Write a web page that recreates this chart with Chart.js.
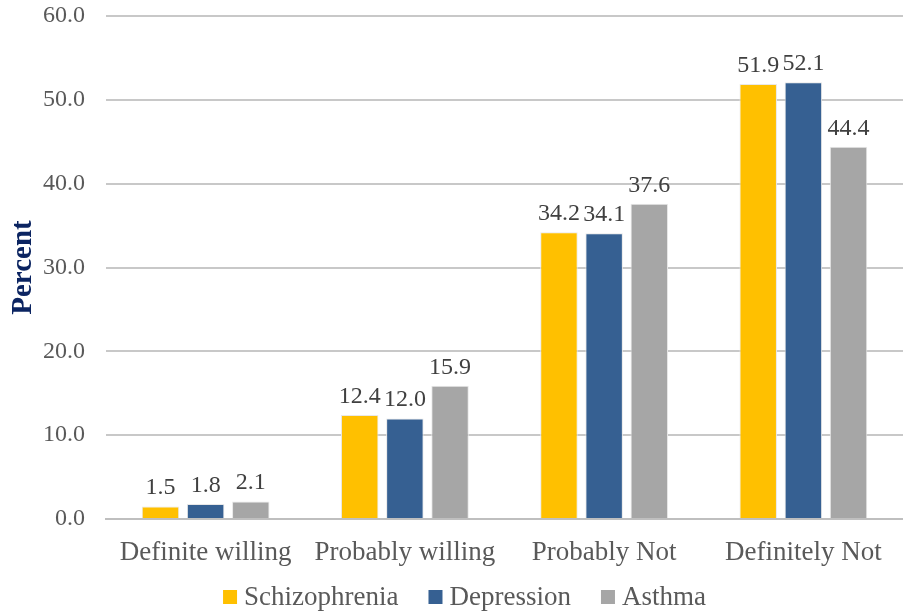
<!DOCTYPE html>
<html>
<head>
<meta charset="utf-8">
<script src="https://cdn.jsdelivr.net/npm/chart.js@4/dist/chart.umd.min.js"></script>
<style>
  html, body { margin: 0; padding: 0; background: #fff; }
  #wrap { width: 903px; height: 615px; }
</style>
</head>
<body>
<div id="wrap"><canvas id="c" width="903" height="615"></canvas></div>
<script>
// Willingness categories and percent per illness vignette
const categories = ['Definite willing', 'Probably willing', 'Probably Not', 'Definitely Not'];
const schizophrenia = [1.5, 12.4, 34.2, 51.9];
const depression = [1.8, 12.0, 34.1, 52.1];
const asthma = [2.1, 15.9, 37.6, 44.4];
const yTicks = [0, 10, 20, 30, 40, 50, 60];

const FONT = '"Liberation Serif", "Times New Roman", serif';
const TEXT = '#595959';

// Simple value labels above each bar (no datalabels plugin available offline)
const barLabels = {
    id: 'barLabels',
    afterDatasetsDraw(chart) {
        const ctx = chart.ctx;
        ctx.save();
        ctx.font = '24px ' + FONT;
        ctx.fillStyle = '#404040';
        ctx.textAlign = 'center';
        ctx.textBaseline = 'alphabetic';
        chart.data.datasets.forEach((ds, i) => {
            chart.getDatasetMeta(i).data.forEach((bar, j) => {
                ctx.fillText(ds.data[j].toFixed(1), bar.x, bar.y - 12);
            });
        });
        ctx.restore();
    },
};

// Office-style legend: small square, tight gap to text, wide gap between items.
const bottomLegend = {
    id: 'bottomLegend',
    afterDraw(chart) {
        const ctx = chart.ctx;
        const box = 14, gapText = 7, gapItem = 30, y = 597;
        ctx.save();
        ctx.font = '27px ' + FONT;
        const items = chart.data.datasets.map(ds => ({
            label: ds.label, color: ds.backgroundColor, w: ctx.measureText(ds.label).width,
        }));
        const total = items.reduce((s, it) => s + box + gapText + it.w, 0) + gapItem * (items.length - 1);
        let x = chart.width / 2 + 13 - total / 2;
        ctx.textBaseline = 'middle';
        ctx.textAlign = 'left';
        items.forEach(it => {
            ctx.fillStyle = it.color;
            ctx.fillRect(x, y - box / 2, box, box);
            ctx.fillStyle = TEXT;
            ctx.fillText(it.label, x + box + gapText, y + 1);
            x += box + gapText + it.w + gapItem;
        });
        ctx.restore();
    },
};

new Chart(document.getElementById('c'), {
    type: 'bar',
    data: {
        labels: categories,
        datasets: [
            { label: 'Schizophrenia', data: schizophrenia, backgroundColor: '#FFC000' },
            { label: 'Depression', data: depression, backgroundColor: '#366092' },
            { label: 'Asthma', data: asthma, backgroundColor: '#A6A6A6' },
        ].map(d => ({ ...d, borderColor: '#E8E8E8', borderWidth: 1, categoryPercentage: 0.68, barPercentage: 0.83 })),
    },
    options: {
        responsive: false,
        animation: false,
        layout: { padding: { top: 16, right: 0, left: 6, bottom: 49 } },
        plugins: {
            legend: { display: false },
            tooltip: { enabled: false },
        },
        scales: {
            x: {
                afterFit: axis => { axis.height = 47; },
                grid: { display: false, drawTicks: false },
                border: { color: '#BFBFBF', width: 2 },
                ticks: { font: { family: FONT, size: 27 }, color: TEXT, padding: 18 },
            },
            y: {
                min: 0,
                max: 60,
                afterBuildTicks: axis => { axis.ticks = yTicks.map(v => ({ value: v })); },
                afterFit: axis => {
                    axis.width = 100;
                    axis.paddingTop = 0;
                    axis.paddingBottom = 0;
                },
                grid: { color: '#C8C8C8', lineWidth: 2, drawTicks: false },
                border: { display: false },
                ticks: {
                    font: { family: FONT, size: 24 },
                    color: TEXT,
                    padding: 21,
                    callback: v => Number(v).toFixed(1),
                },
                title: {
                    display: true,
                    text: 'Percent',
                    font: { family: FONT, size: 29, weight: 'bold' },
                    color: '#0B2461',
                    padding: 0,
                },
            },
        },
    },
    plugins: [barLabels, bottomLegend],
});
</script>
</body>
</html>
